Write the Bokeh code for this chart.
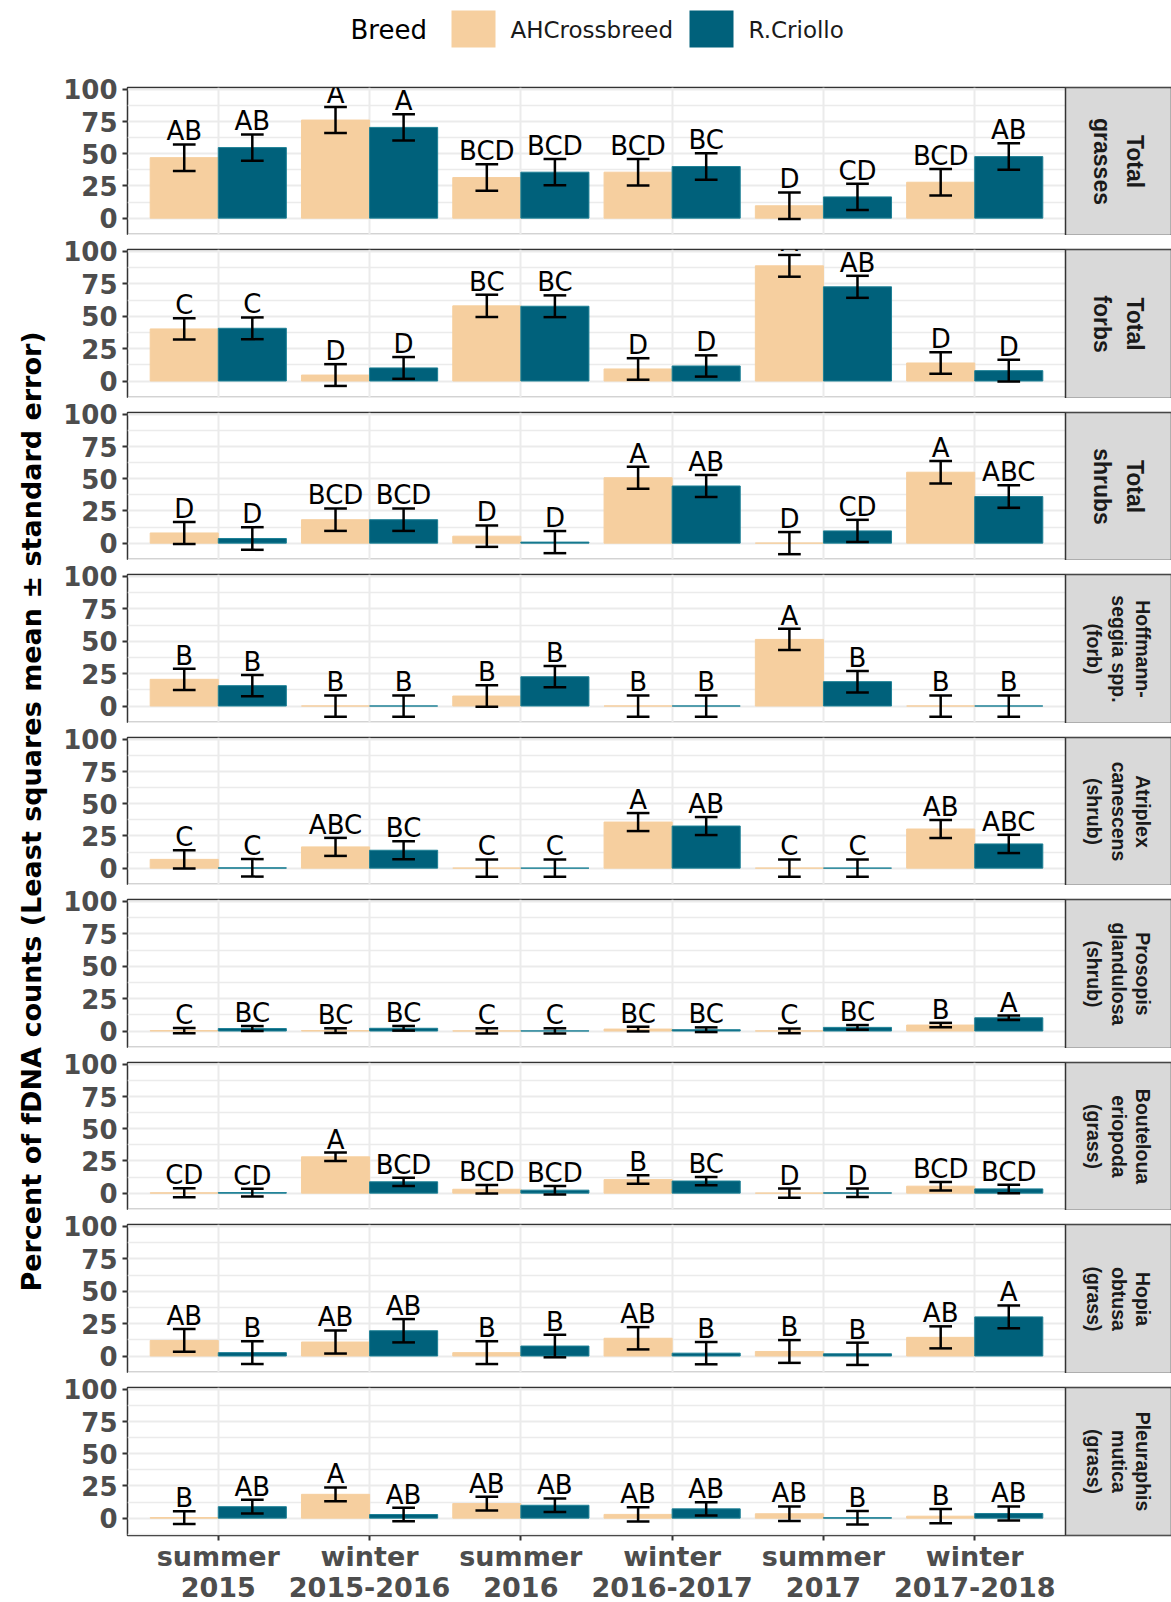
import math
import numpy as np
from bokeh.plotting import figure
from bokeh.layouts import row, column
from bokeh.models import FixedTicker, ColumnDataSource, Range1d
from bokeh.core.properties import value
from bokeh.embed import file_html
from bokeh.resources import INLINE

# ---- data -------------------------------------------------------------
seasons = ["summer\n2015", "winter\n2015-2016", "summer\n2016",
           "winter\n2016-2017", "summer\n2017", "winter\n2017-2018"]
breeds = ["AHCrossbreed", "R.Criollo"]
breed_colors = ["#F6CF9F", "#00617B"]
breed_edges = ["#F6CF9F", "#1E8196"]
panel_labels = ["Total\ngrasses", "Total\nforbs", "Total\nshrubs",
                "Hoffmann-\nseggia spp.\n(forb)", "Atriplex\ncanescens\n(shrub)",
                "Prosopis\nglandulosa\n(shrub)", "Bouteloua\neriopoda\n(grass)",
                "Hopia\nobtusa\n(grass)", "Pleuraphis\nmutica\n(grass)"]

mean_ah = [
    [47.0, 76.2, 31.5, 35.7, 9.6, 27.9],
    [40.2, 4.6, 58.0, 9.3, 88.9, 13.9],
    [7.9, 18.2, 5.4, 50.8, 0.0, 55.1],
    [20.6, 0.0, 7.7, 0.0, 51.4, 0.0],
    [6.8, 16.5, 0.0, 35.8, 0.0, 30.4],
    [0.3, 0.3, 0.1, 1.5, 0.1, 4.6],
    [0.2, 28.2, 3.0, 10.5, 0.0, 5.4],
    [12.0, 10.8, 2.6, 13.7, 3.5, 14.4],
    [0.4, 18.5, 11.3, 2.9, 3.4, 1.5],
]
se_ah = [
    [10.3, 10.1, 10.3, 10.3, 10.3, 10.3],
    [8.2, 8.4, 8.6, 8.3, 8.4, 8.3],
    [8.5, 8.7, 8.3, 8.5, 8.6, 8.8],
    [8.2, 8.2, 8.3, 8.2, 8.2, 8.2],
    [7.0, 7.0, 6.7, 7.0, 6.7, 7.0],
    [2.0, 1.8, 2.0, 1.8, 1.8, 1.7],
    [3.5, 3.3, 3.3, 3.3, 3.5, 3.3],
    [8.8, 8.9, 8.8, 8.6, 8.8, 8.5],
    [5.0, 5.3, 5.4, 5.5, 5.6, 5.5],
]
group_ah = [
    ["AB", "A", "BCD", "BCD", "D", "BCD"],
    ["C", "D", "BC", "D", "A", "D"],
    ["D", "BCD", "D", "A", "D", "A"],
    ["B", "B", "B", "B", "A", "B"],
    ["C", "ABC", "C", "A", "C", "AB"],
    ["C", "BC", "C", "BC", "C", "B"],
    ["CD", "A", "BCD", "B", "D", "BCD"],
    ["AB", "AB", "B", "AB", "B", "AB"],
    ["B", "A", "AB", "AB", "AB", "B"],
]
mean_rc = [
    [54.8, 70.5, 35.7, 40.1, 16.5, 47.8],
    [40.7, 10.1, 57.7, 11.6, 72.7, 8.0],
    [3.6, 18.2, 0.8, 44.4, 9.5, 36.2],
    [15.7, 0.0, 22.6, 0.0, 18.8, 0.0],
    [0.2, 13.9, 0.0, 32.7, 0.0, 18.8],
    [1.9, 2.1, 0.1, 1.0, 2.8, 10.2],
    [0.4, 8.8, 2.3, 9.4, 0.2, 3.3],
    [2.6, 19.5, 7.7, 2.2, 1.7, 30.2],
    [8.9, 2.8, 10.0, 7.2, 0.3, 3.6],
]
se_rc = [
    [10.2, 10.2, 10.2, 10.3, 10.2, 10.3],
    [8.4, 8.4, 8.4, 8.2, 8.5, 8.4],
    [8.8, 8.7, 8.6, 8.6, 8.6, 8.8],
    [8.2, 8.2, 8.2, 8.2, 8.3, 8.2],
    [6.8, 7.0, 6.7, 7.0, 6.7, 7.1],
    [1.9, 1.8, 2.0, 1.8, 1.8, 1.7],
    [3.0, 3.2, 3.3, 3.2, 3.3, 3.3],
    [8.8, 9.0, 8.7, 8.6, 8.6, 8.8],
    [5.3, 5.2, 5.3, 5.2, 5.3, 5.4],
]
group_rc = [
    ["AB", "A", "BCD", "BC", "CD", "AB"],
    ["C", "D", "BC", "D", "AB", "D"],
    ["D", "BCD", "D", "AB", "CD", "ABC"],
    ["B", "B", "B", "B", "B", "B"],
    ["C", "BC", "C", "AB", "C", "ABC"],
    ["BC", "BC", "C", "BC", "BC", "A"],
    ["CD", "BCD", "BCD", "BC", "D", "BCD"],
    ["B", "AB", "B", "B", "B", "A"],
    ["AB", "AB", "AB", "AB", "B", "AB"],
]
y_ticks = [0, 25, 50, 75, 100]
y_minor = [-12.5, 12.5, 37.5, 62.5, 87.5]
y_title = "Percent of fDNA counts (Least squares mean \u00b1 standard error)"

# ---- layout constants -------------------------------------------------
TITLE_W = 60
LEG_H = 73
GAP = 14
LEFT = 66
PANEL_PX, STRIP_PX = 938, 106
FRAME_W = PANEL_PX + STRIP_PX
frame_heights = [148, 149, 148, 149, 148, 149, 148, 149, 148]
AXIS_H = 67
PAGE_FRAME_LEFT = TITLE_W + LEFT

X_LO, X_HI = 0.4, 6.6
X_END = X_HI + STRIP_PX * (X_HI - X_LO) / PANEL_PX
Y_LO, Y_HI = -13.5, 101.5

GRID = "#EBEBEB"
DARK = "#333333"
TICK_TXT = "#4D4D4D"

xpos = np.arange(1, len(seasons) + 1, dtype=float)
dodge = [-0.225, 0.225]
bar_w = 0.45
cap_half = 0.075

per_breed = [(mean_ah, se_ah, group_ah), (mean_rc, se_rc, group_rc)]

panels = []
for i, label in enumerate(panel_labels):
    last = i == len(panel_labels) - 1
    p = figure(frame_width=FRAME_W, frame_height=frame_heights[i],
               x_range=Range1d(X_LO, X_END), y_range=Range1d(Y_LO, Y_HI),
               x_axis_location="below" if last else None,
               min_border_left=LEFT, min_border_right=1,
               min_border_top=GAP, min_border_bottom=AXIS_H if last else 0,
               output_backend="svg", toolbar_location=None,
               background_fill_color="white", border_fill_color="white")
    p.outline_line_color = DARK
    p.outline_line_width = 1.5

    yt = FixedTicker(ticks=y_ticks, minor_ticks=y_minor)
    xt = FixedTicker(ticks=list(xpos), minor_ticks=[])
    p.yaxis.ticker = yt
    p.ygrid.ticker = yt
    p.xgrid.ticker = xt
    p.ygrid.grid_line_color = GRID
    p.ygrid.grid_line_width = 2
    p.ygrid.minor_grid_line_color = GRID
    p.ygrid.minor_grid_line_width = 1.3
    p.xgrid.grid_line_color = GRID
    p.xgrid.grid_line_width = 2

    ya = p.yaxis[0]
    ya.axis_line_color = None
    ya.major_tick_line_color = DARK
    ya.major_tick_line_width = 2
    ya.major_tick_out = 5
    ya.major_tick_in = 0
    ya.minor_tick_line_color = None
    ya.major_label_standoff = 5
    ya.major_label_text_font = "DejaVu Sans"
    ya.major_label_text_font_style = "bold"
    ya.major_label_text_font_size = "26px"
    ya.major_label_text_color = TICK_TXT

    if last:
        xa = p.xaxis[0]
        xa.ticker = xt
        xa.major_label_overrides = {int(k): s for k, s in zip(xpos, seasons)}
        xa.axis_line_color = None
        xa.major_tick_line_color = DARK
        xa.major_tick_line_width = 2
        xa.major_tick_out = 5
        xa.major_tick_in = 0
        xa.minor_tick_line_color = None
        xa.major_label_standoff = 0
        xa.major_label_text_font = "DejaVu Sans"
        xa.major_label_text_font_style = "bold"
        xa.major_label_text_font_size = "27px"
        xa.major_label_text_line_height = 1.0
        xa.major_label_text_color = TICK_TXT

    for b, (means, ses, groups) in enumerate(per_breed):
        m = np.array(means[i])
        s = np.array(ses[i])
        x = xpos + dodge[b]
        src = ColumnDataSource(dict(
            x=x, top=m, lower=m - s, upper=m + s,
            xl=x - cap_half, xr=x + cap_half,
            ly=m + s - 1.5, grp=groups[i]))
        p.vbar(x="x", top="top", bottom=0, width=bar_w, source=src,
               fill_color=breed_colors[b], line_color=breed_edges[b], line_width=1)
        p.segment(x0="x", y0="lower", x1="x", y1="upper", source=src,
                  line_color="black", line_width=2.5)
        p.segment(x0="xl", y0="upper", x1="xr", y1="upper", source=src,
                  line_color="black", line_width=2.5)
        p.segment(x0="xl", y0="lower", x1="xr", y1="lower", source=src,
                  line_color="black", line_width=2.5)
        p.text(x="x", y="ly", text="grp", source=src,
               text_font=value("DejaVu Sans"), text_font_size="26px",
               text_align="center", text_baseline="bottom", text_color="black")

    # facet strip on the right
    p.quad(left=[X_HI], right=[X_END], bottom=[Y_LO], top=[Y_HI],
           fill_color="#D9D9D9", line_color=DARK, line_width=1.5)
    n_lines = label.count("\n") + 1
    p.text(x=[(X_HI + X_END) / 2], y=[(Y_LO + Y_HI) / 2], text=[label],
           angle=-math.pi / 2,
           text_font=value("Liberation Sans"), text_font_style="bold",
           text_font_size="23px" if n_lines == 2 else "19.5px",
           text_line_height=1.3 if n_lines == 2 else 1.12,
           text_align="center", text_baseline="middle", text_color="#1A1A1A")
    panels.append(p)

# ---- legend (x in page pixels, aligned with the panel frames) ----------
leg = figure(frame_width=FRAME_W, frame_height=LEG_H,
             x_range=Range1d(PAGE_FRAME_LEFT, PAGE_FRAME_LEFT + FRAME_W),
             y_range=Range1d(LEG_H, 0),
             x_axis_location=None, y_axis_location=None,
             min_border_left=LEFT, min_border_right=1, min_border_top=0, min_border_bottom=0,
             output_backend="svg", toolbar_location=None)
leg.outline_line_color = None
leg.grid.visible = False
sw_left = [450, 688]
leg.quad(left=sw_left, right=[v + 44 for v in sw_left], top=[10, 10], bottom=[47, 47],
         fill_color=breed_colors, line_color=None)
leg.text(x=[349], y=[29], text=["Breed"], text_font=value("DejaVu Sans"),
         text_font_size="26px", text_align="left", text_baseline="middle",
         text_color="black")
leg.text(x=[509, 747], y=[29, 29], text=breeds,
         text_font=value("DejaVu Sans"), text_font_size="23px",
         text_align="left", text_baseline="middle", text_color="#1A1A1A")

# ---- shared y title ---------------------------------------------------
total_h = LEG_H + sum(GAP + h for h in frame_heights) + AXIS_H
panel_mid = (LEG_H + GAP + (total_h - AXIS_H)) / 2
tf = figure(frame_width=TITLE_W, frame_height=total_h,
            x_range=Range1d(0, TITLE_W), y_range=Range1d(total_h, 0),
            x_axis_location=None, y_axis_location=None, min_border=0,
            output_backend="svg", toolbar_location=None)
tf.outline_line_color = None
tf.grid.visible = False
tf.text(x=[31], y=[panel_mid], text=[y_title], angle=math.pi / 2,
        text_font=value("DejaVu Sans"), text_font_style="bold", text_font_size="27px",
        text_align="center", text_baseline="middle", text_color="black")

layout = row(tf, column(leg, *panels, spacing=0), spacing=0)
open("out.html", "w").write(file_html(layout, INLINE))
